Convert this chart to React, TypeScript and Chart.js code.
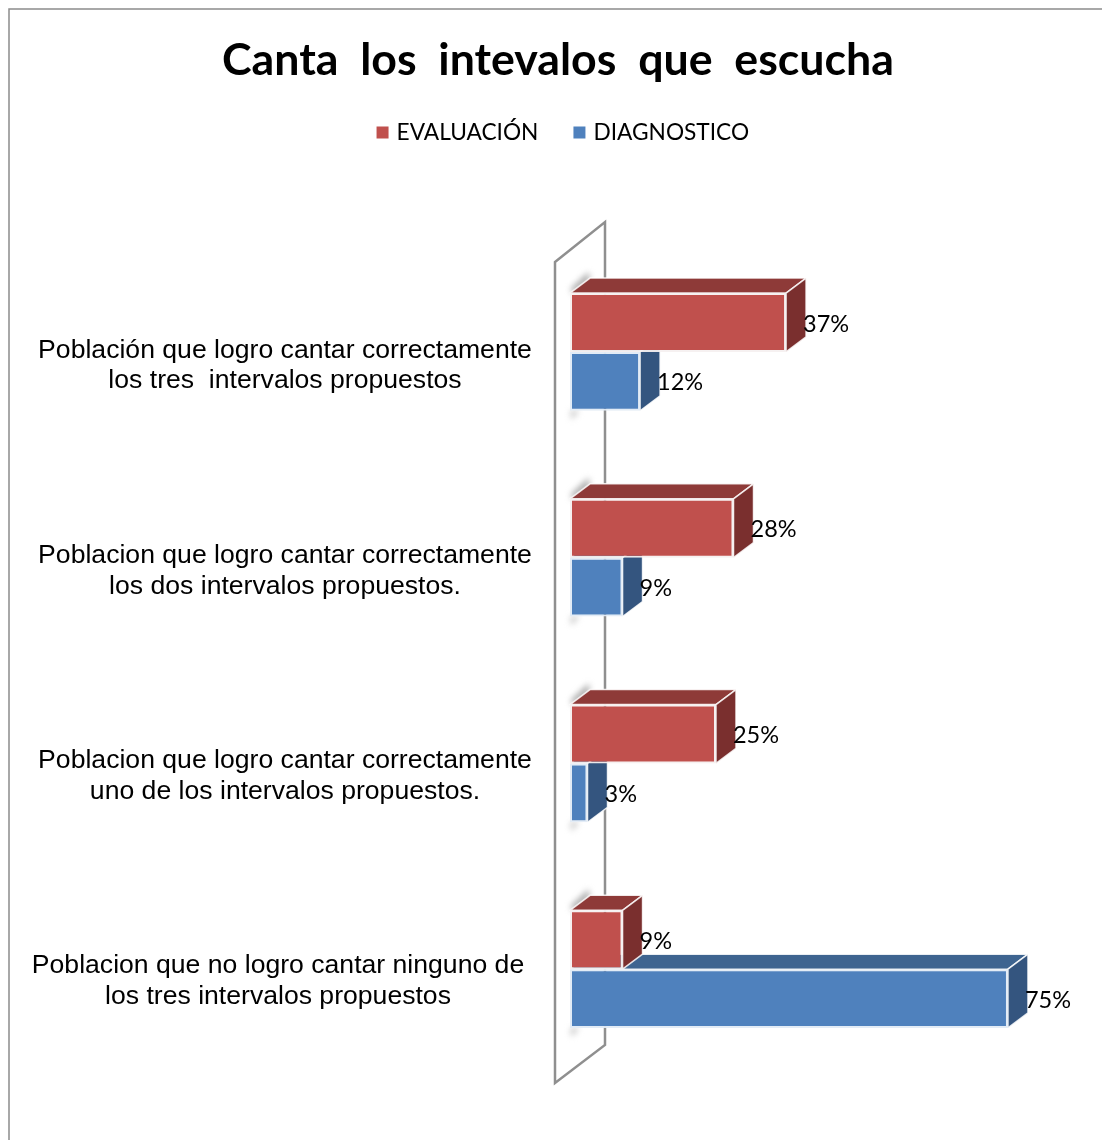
import React, { useEffect, useRef } from "react";
import { Chart, registerables } from "chart.js";

Chart.register(...registerables);

const titleText = "Canta  los  intevalos  que  escucha";
const categories = [
  ["Población que logro cantar correctamente", "los tres  intervalos propuestos"],
  ["Poblacion que logro cantar correctamente", "los dos intervalos propuestos."],
  ["Poblacion que logro cantar correctamente", "uno de los intervalos propuestos."],
  ["Poblacion que no logro cantar ninguno de", "los tres intervalos propuestos"],
];
const evaluacion = [37, 28, 25, 9];
const diagnostico = [12, 9, 3, 75];
const labelCenters = [285, 285, 285, 278];
const labelShifts = [-1.5, -2, -2.5, -3];

const DX = 20;
const DY = -15;
const W = 1116;
const H = 1160;
const faces: Record<string, { top: string; side: string }> = {
  EVALUACIÓN: { top: "#8E3A38", side: "#7A2F2E" },
  DIAGNOSTICO: { top: "#3E6490", side: "#34557F" },
};

const poly = (ctx: CanvasRenderingContext2D, pts: number[][]) => {
  ctx.beginPath();
  pts.forEach((p, i) => (i ? ctx.lineTo(p[0], p[1]) : ctx.moveTo(p[0], p[1])));
  ctx.closePath();
};

const frame = {
  id: "frame",
  beforeDraw(chart: any) {
    const { ctx } = chart;
    ctx.save();
    ctx.fillStyle = "#fff";
    ctx.fillRect(0, 0, W, H);
    ctx.strokeStyle = "#8c8c8c";
    ctx.lineWidth = 1.5;
    ctx.strokeRect(9, 9, W, H);
    ctx.restore();
    chart.legend.left = 6.5;
    chart.legend.right = W + 6.5;
  },
};

const depth = {
  id: "depth",
  beforeDatasetsDraw(chart: any) {
    const { ctx, scales } = chart;
    const x0 = scales.x.getPixelForValue(0);
    const top = scales.y.top;
    const bottom = scales.y.bottom;
    ctx.save();
    // back wall of the 3D plot
    poly(ctx, [
      [x0 - 15, top + 13],
      [x0 + 35, top - 27],
      [x0 + 35, bottom - 27],
      [x0 - 15, bottom + 11],
    ]);
    ctx.fillStyle = "#fff";
    ctx.fill();
    ctx.strokeStyle = "#8f8f8f";
    ctx.lineWidth = 2.5;
    ctx.stroke();

    // soft shadows behind each group
    const first = chart.getDatasetMeta(0).data;
    const last = chart.getDatasetMeta(1).data;
    first.forEach((bar: any, i: number) => {
      const y1 = bar.y - bar.height / 2;
      const y2 = last[i].y + last[i].height / 2;
      ctx.save();
      ctx.filter = "blur(3px)";
      ctx.fillStyle = "#a0a0a0";
      poly(ctx, [
        [x0 + 1, y1 - 4],
        [x0 + 19, y1 - 21],
        [x0 + 19, y1 - 12],
        [x0 + 3, y1 + 1],
      ]);
      ctx.fill();
      ctx.fillStyle = "#c0c0c0";
      poly(ctx, [
        [x0 + 1, y2],
        [x0 + 9, y2],
        [x0 + 2, y2 + 8],
        [x0 + 1, y2 + 8],
      ]);
      ctx.fill();
      ctx.restore();
    });

    // top and side faces, lower series first
    [1, 0].forEach((d) => {
      const ds = chart.data.datasets[d];
      chart.getDatasetMeta(d).data.forEach((bar: any) => {
        const y1 = bar.y - bar.height / 2;
        const y2 = bar.y + bar.height / 2;
        const xb = bar.base;
        const xe = bar.x;
        ctx.strokeStyle = "rgba(255,255,255,0.85)";
        ctx.lineWidth = 1.5;
        ctx.lineJoin = "round";
        poly(ctx, [
          [xb, y1],
          [xb + DX, y1 + DY],
          [xe + DX, y1 + DY],
          [xe, y1],
        ]);
        ctx.fillStyle = faces[ds.label].top;
        ctx.fill();
        ctx.stroke();
        poly(ctx, [
          [xe, y1],
          [xe + DX, y1 + DY],
          [xe + DX, y2 + DY],
          [xe, y2],
        ]);
        ctx.fillStyle = faces[ds.label].side;
        ctx.fill();
        ctx.stroke();
      });
    });
    ctx.restore();
  },
};

const texts = {
  id: "texts",
  afterDraw(chart: any) {
    const { ctx, scales, data } = chart;
    ctx.save();
    ctx.fillStyle = "#000";
    // category labels
    ctx.font = '26.6px "Liberation Sans"';
    ctx.textAlign = "center";
    ctx.textBaseline = "middle";
    data.labels.forEach((lines: string[], i: number) => {
      const cy = scales.y.getPixelForValue(i) + labelShifts[i];
      ctx.fillText(lines[0], labelCenters[i], cy);
      ctx.fillText(lines[1], labelCenters[i], cy + 30.5);
    });
    // value labels
    ctx.font = "23.5px Lato";
    ctx.textAlign = "left";
    data.datasets.forEach((ds: any, d: number) => {
      chart.getDatasetMeta(d).data.forEach((bar: any, i: number) => {
        ctx.fillText(`${ds.data[i]}%`, bar.x + 17, bar.y + 1.5);
      });
    });
    ctx.restore();
  },
};

export default function App() {
  const ref = useRef<HTMLCanvasElement>(null);
  useEffect(() => {
    const chart = new Chart(ref.current!, {
      type: "bar",
      data: {
        labels: categories as any,
        datasets: [
          {
            label: "EVALUACIÓN",
            data: evaluacion,
            backgroundColor: "#C0504D",
            borderColor: "rgba(245,240,240,0.95)",
            borderWidth: 2,
            borderSkipped: false,
          },
          {
            label: "DIAGNOSTICO",
            data: diagnostico,
            backgroundColor: "#4F81BD",
            borderColor: "rgba(225,235,245,0.95)",
            borderWidth: 2,
            borderSkipped: false,
          },
        ],
      },
      options: {
        indexAxis: "y",
        responsive: false,
        animation: false,
        datasets: { bar: { categoryPercentage: 0.572, barPercentage: 1 } },
        layout: { padding: { bottom: H - 1072 } },
        scales: {
          x: {
            position: "top",
            min: 0,
            max: 93.5,
            grid: { display: false },
            border: { display: false },
            ticks: { display: false },
            afterFit: (s: any) => {
              s.height = 95.3;
            },
          },
          y: {
            grid: { display: false },
            border: { display: false },
            ticks: { display: false },
            afterFit: (s: any) => {
              s.width = 570;
            },
          },
        },
        plugins: {
          tooltip: { enabled: false },
          title: {
            display: true,
            text: titleText,
            color: "#000",
            font: { family: "Lato", size: 44.7, weight: "bold", lineHeight: 1 },
            padding: { top: 38, bottom: 0 },
          },
          legend: {
            display: true,
            position: "top",
            labels: {
              color: "#000",
              font: { family: "Lato", size: 22.7 },
              boxWidth: 5.3,
              boxHeight: 5.3,
              padding: 38.35,
              generateLabels: (c: any) =>
                c.data.datasets.map((ds: any, i: number) => ({
                  text: ds.label,
                  fillStyle: ds.backgroundColor,
                  strokeStyle: ds.backgroundColor,
                  lineWidth: 6.7,
                  datasetIndex: i,
                })),
            },
          },
        },
      } as any,
      plugins: [frame, depth, texts],
    });
    return () => chart.destroy();
  }, []);
  return (
    <div style={{ position: "absolute", left: 0, top: 0, width: 1102, height: 1140, overflow: "hidden" }}>
      <canvas ref={ref} width={W} height={H} style={{ display: "block" }} />
    </div>
  );
}
